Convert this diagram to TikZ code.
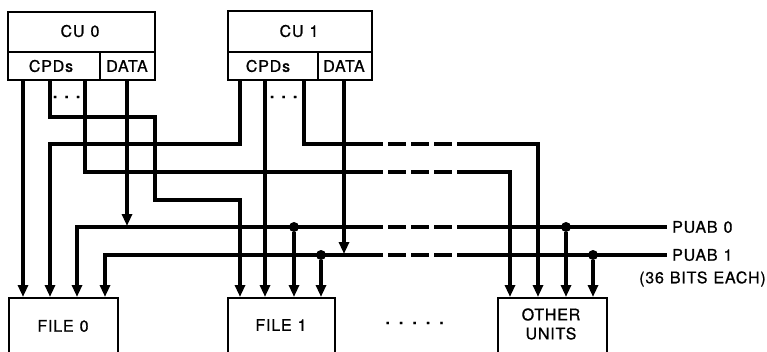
\documentclass[tikz,border=0pt]{standalone}
\usepackage{fontspec}
\setmainfont{TeX Gyre Heros}[LetterSpace=5, FakeBold=0.8]
\usetikzlibrary{arrows.meta}
\newcommand\wsp{\hspace{6pt}}
\begin{document}
\begin{tikzpicture}[x=1pt,y=-1pt,
  box/.style={draw, line width=2pt, rectangle, inner sep=0pt, anchor=north west},
  divider/.style={line width=2pt},
  lbl/.style={font=\fontsize{16}{19}\selectfont, inner sep=0pt},
  wire/.style={line width=3.2pt},
  arr/.style={wire, -{Triangle[length=12pt,width=10pt]}},
  dashseg/.style={wire, dash pattern=on 18pt off 5pt, dash phase=18pt},
  junc/.style={circle, fill, inner sep=0pt, minimum size=10pt}]
\useasboundingbox (0,0) rectangle (767,351);
\clip (0,0) rectangle (767,351);
% boxes
\node[box, minimum width=147pt, minimum height=68pt] (cu0) at (7,11) {};
\node[box, minimum width=144pt, minimum height=69pt] (cu1) at (227,10) {};
\node[box, minimum width=109pt, minimum height=80pt] (file0) at (8,297) {};
\node[box, minimum width=107pt, minimum height=80pt] (file1) at (227,297) {};
\node[box, minimum width=109pt, minimum height=80pt] (other) at (497,297) {};
\draw[divider] (cu0.west |- 0,52) -- (cu0.east |- 0,52);
\draw[divider] (100,52) -- (cu0.south -| 100,0);
\draw[divider] (cu1.west |- 0,52) -- (cu1.east |- 0,52);
\draw[divider] (318,52) -- (cu1.south -| 318,0);
% labels
\node[lbl] (cu0name) at (80,31) {CU\wsp 0};
\node[lbl] (cu0cpd) at (51,66) {CPDs};
\node[lbl] (cu0data) at (127,66) {DATA};
\node[lbl] (cu1name) at (299,31) {CU\wsp 1};
\node[lbl] (cu1cpd) at (268,66) {CPDs};
\node[lbl] (cu1data) at (344,66) {DATA};
\node[lbl] (cu0dots) at (67,97) {\textbf{.\hspace{7pt}.\hspace{7pt}.}};
\node[lbl] (cu1dots) at (284,97) {\textbf{.\hspace{7pt}.\hspace{7pt}.}};
\node[lbl] (f0name) at (63,326) {FILE\wsp 0};
\node[lbl] (f1name) at (281,325) {FILE\wsp 1};
\node[lbl, align=center] (othname) at (551,324) {OTHER\\UNITS};
\node[lbl] (midots) at (415,323) {\textbf{.\hspace{9pt}.\hspace{9pt}.\hspace{9pt}.\hspace{9pt}.}};
\node[lbl, anchor=west] (p0name) at (672,227) {PUAB\wsp 0};
\node[lbl, anchor=west] (p1name) at (672,255) {PUAB\wsp 1};
\node[lbl, anchor=west] (bitsname) at (639,279) {(36\wsp BITS\wsp EACH)};
% junctions
\node[junc] (j0a) at (294,227) {};
\node[junc] (j0b) at (566,227) {};
\node[junc] (j1a) at (321,255) {};
\node[junc] (j1b) at (593,255) {};
\coordinate (e0) at (667,227);
\coordinate (e1) at (667,255);
% CU0 wires
\draw[arr] (cu0.south -| 23,0) -- (file0.north -| 23,0);
\draw[arr] (cu0.south -| 50,0) |- (155,117) |- (240,200) -- (file1.north -| 240,0);
\draw[wire] (cu0.south -| 85,0) |- (383,172);
\draw[dashseg] (383,172) -- (457,172);
\draw[arr] (457,172) -| (other.north -| 510,0);
\draw[arr] (cu0.south -| 127,0) -- (127,226);
% CU1 wires
\draw[arr] (cu1.south -| 240,0) |- (50,144) -- (file0.north -| 50,0);
\draw[arr] (cu1.south -| 265,0) -- (file1.north -| 265,0);
\draw[wire] (cu1.south -| 304,0) |- (383,144);
\draw[dashseg] (383,144) -- (457,144);
\draw[arr] (457,144) -| (other.north -| 538,0);
\draw[arr] (cu1.south -| 344,0) -- (344,254);
% PUAB 0
\draw[arr] (383,227) -| (file0.north -| 77,0);
\draw[dashseg] (383,227) -- (457,227);
\draw[wire] (457,227) -- (e0);
\draw[arr] (j0a) -- (file1.north -| j0a);
\draw[arr] (j0b) -- (other.north -| j0b);
% PUAB 1
\draw[arr] (383,255) -| (file0.north -| 105,0);
\draw[dashseg] (383,255) -- (457,255);
\draw[wire] (457,255) -- (e1);
\draw[arr] (j1a) -- (file1.north -| j1a);
\draw[arr] (j1b) -- (other.north -| j1b);
\end{tikzpicture}
\end{document}
